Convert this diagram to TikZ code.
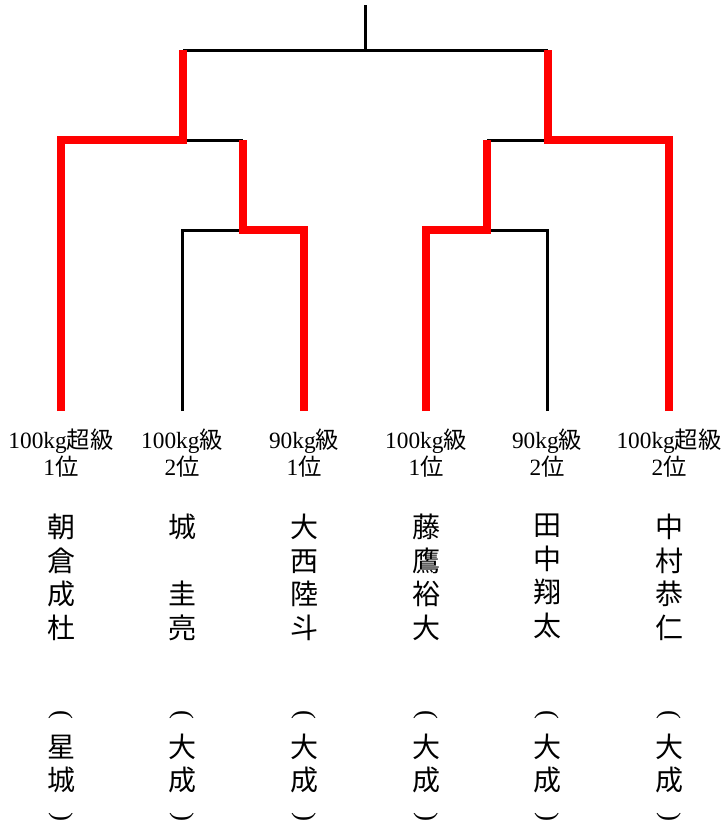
\documentclass[tikz,border=0pt]{standalone}
\usepackage{fontspec}
\setmainfont{Liberation Serif}
\newfontfamily\jp{Noto Sans CJK JP}
\usetikzlibrary{positioning}

\begin{document}
\begin{tikzpicture}[x=0.75pt, y=-0.75pt,
    win/.style={draw=red, line width=6pt},
    lose/.style={draw=black, line width=2.25pt},
    paren/.style={inner sep=0pt, font=\fontsize{20}{24}\selectfont}]
    \useasboundingbox (0, 0) rectangle (724, 825);
    % bracket points
    \coordinate (top)at (365, 5);
    \coordinate (f)at (365, 50);
    \coordinate (s1)at (183, 140);
    \coordinate (s2)at (548, 140);
    \coordinate (m1)at (243, 230);
    \coordinate (m2)at (487, 230);
    \coordinate (p1)at (61, 411);
    \coordinate (p2)at (182, 411);
    \coordinate (p3)at (304, 411);
    \coordinate (p4)at (426, 411);
    \coordinate (p5)at (547, 411);
    \coordinate (p6)at (669, 411);
    % black lines first
    \draw[lose] (top) -- (f);
    \draw[lose] (s1 |- f) -- (s2 |- f);
    \draw[lose] (s1) -- (m1 |- s1);
    \draw[lose] (p2) |- (m1);
    \draw[lose] (s2) -- (m2 |- s2);
    \draw[lose] (p5) |- (m2);
    % winners in red
    \draw[win] (p1) |- (s1) -- (s1 |- f);
    \draw[win] (p3) |- (m1) -- (m1 |- s1);
    \draw[win] (p4) |- (m2) -- (m2 |- s2);
    \draw[win] (p6) |- (s2) -- (s2 |- f);
    \begin{scope}[every node/.style={anchor=north, inner sep=0pt, align=center,
        font=\fontsize{17.5}{20.25}\selectfont}]
        \node (r1)at (61, 429){100kg{\jp 超級}\\1{\jp 位}};
        \node (r2)at (182, 429){100kg{\jp 級}\\2{\jp 位}};
        \node (r3)at (304, 429){90kg{\jp 級}\\1{\jp 位}};
        \node (r4)at (426, 429){100kg{\jp 級}\\1{\jp 位}};
        \node (r5)at (547, 429){90kg{\jp 級}\\2{\jp 位}};
        \node (r6)at (669, 429){100kg{\jp 超級}\\2{\jp 位}};
    \end{scope}
    \begin{scope}[every node/.style={anchor=north, inner sep=0pt, align=center,
        font=\jp\fontsize{21}{25.1}\selectfont}]
        \node (n1)at (61, 514){朝\\倉\\成\\杜};
        \node (n2)at (182, 514){城\\　\\圭\\亮};
        \node (n3)at (304, 514){大\\西\\陸\\斗};
        \node (n4)at (426, 514){藤\\鷹\\裕\\大};
        \node (n5)at (547, 514){田\\中\\翔\\太};
        \node (n6)at (669, 514){中\\村\\恭\\仁};
    \end{scope}
    \begin{scope}[every node/.style={inner sep=0pt, align=center,
        font=\jp\fontsize{21}{24.75}\selectfont}]
        \node (c1)at (61, 763.5){星\\城};
        \node (c2)at (182, 763.5){大\\成};
        \node (c3)at (304, 763.5){大\\成};
        \node (c4)at (426, 763.5){大\\成};
        \node (c5)at (547, 763.5){大\\成};
        \node (c6)at (669, 763.5){大\\成};
    \end{scope}
    % upright brackets round the school
    \foreach \i/\x in {1/61, 2/182, 3/304, 4/426, 5/547, 6/669} {
        \node[paren] (o\i)at (\x, 714.5){\rotatebox{-90}{(}};
        \node[paren] (e\i)at (\x, 817.5){\rotatebox{90}{(}};
    }
\end{tikzpicture}
\end{document}
